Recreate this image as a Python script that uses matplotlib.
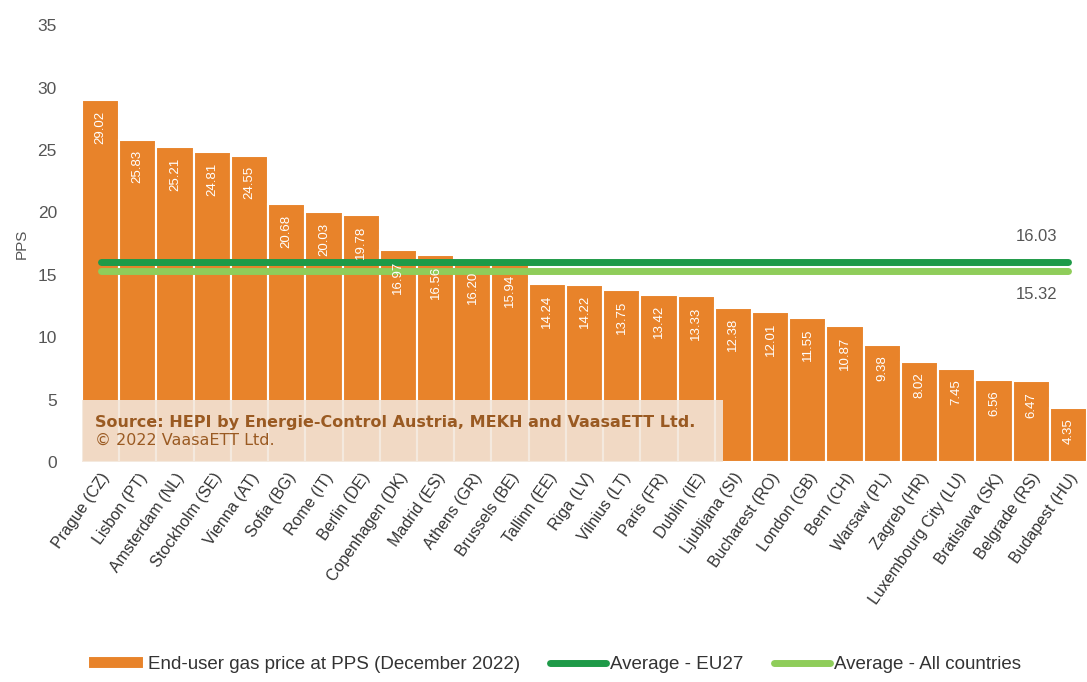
import matplotlib.pyplot as plt
from matplotlib.patches import Rectangle

plt.rcParams["font.family"] = ["Liberation Sans", "DejaVu Sans"]

cities = ["Prague (CZ)", "Lisbon (PT)", "Amsterdam (NL)", "Stockholm (SE)", "Vienna (AT)",
          "Sofia (BG)", "Rome (IT)", "Berlin (DE)", "Copenhagen (DK)", "Madrid (ES)",
          "Athens (GR)", "Brussels (BE)", "Tallinn (EE)", "Riga (LV)", "Vilnius (LT)",
          "Paris (FR)", "Dublin (IE)", "Ljubljana (SI)", "Bucharest (RO)", "London (GB)",
          "Bern (CH)", "Warsaw (PL)", "Zagreb (HR)", "Luxembourg City (LU)", "Bratislava (SK)",
          "Belgrade (RS)", "Budapest (HU)"]
prices = [29.02, 25.83, 25.21, 24.81, 24.55, 20.68, 20.03, 19.78, 16.97, 16.56,
          16.20, 15.94, 14.24, 14.22, 13.75, 13.42, 13.33, 12.38, 12.01, 11.55,
          10.87, 9.38, 8.02, 7.45, 6.56, 6.47, 4.35]
avg_eu27 = 16.03
avg_all = 15.32

orange = "#e8832a"
dark_green = "#1e9a48"
light_green = "#8fcd5a"
grey = "#555555"

fig = plt.figure(figsize=(10.87, 6.82), dpi=100)
ax = fig.add_axes([0.0754, 0.3226, 0.9246, 0.6404])

x = list(range(len(cities)))
bars = ax.bar(x, prices, width=1.0, color=orange, edgecolor="white", linewidth=1.5,
              zorder=2, label="End-user gas price at PPS (December 2022)")

for xi, v in zip(x, prices):
    ax.text(xi, v - 0.85, f"{v:.2f}", rotation=90, ha="center", va="top",
            color="white", fontsize=9.5, zorder=5)

l1, = ax.plot([x[0], x[-1]], [avg_eu27, avg_eu27], color=dark_green, lw=5,
              solid_capstyle="round", zorder=4, label="Average - EU27")
l2, = ax.plot([x[0], x[-1]], [avg_all, avg_all], color=light_green, lw=5,
              solid_capstyle="round", zorder=3, label="Average - All countries")
ax.text(x[-1] - 0.3, avg_eu27 + 1.4, f"{avg_eu27:.2f}", ha="right", va="bottom",
        color=grey, fontsize=12)
ax.text(x[-1] - 0.3, avg_all - 1.3, f"{avg_all:.2f}", ha="right", va="top",
        color=grey, fontsize=12)

ax.set_xlim(-0.5, len(cities) - 0.5)
ax.set_ylim(0, 35)
ax.set_yticks(range(0, 36, 5))
ax.set_xticks(x)
ax.set_xticklabels(cities, rotation=55, ha="right", rotation_mode="anchor",
                   fontsize=11.5, color="#333333")
ax.tick_params(axis="both", length=0, colors=grey)
ax.tick_params(axis="y", pad=18, labelsize=12.5)
ax.tick_params(axis="x", colors="#333333", pad=6, labelsize=11.5)
ax.set_ylabel("PPS", color=grey, fontsize=11, labelpad=6)
for s in ax.spines.values():
    s.set_visible(False)

# source box
ax.add_patch(Rectangle((-0.5, 0), 17.22, 5.0, facecolor="#f3e6da", alpha=0.88,
                       edgecolor="none", zorder=6))
ax.text(-0.15, 3.2, "Source: HEPI by Energie-Control Austria, MEKH and VaasaETT Ltd.",
        color="#9a5a22", fontsize=11.5, fontweight="bold", va="center", zorder=7,
        family="DejaVu Sans")
ax.text(-0.15, 1.7, "\u00a9 2022 VaasaETT Ltd.", color="#9a5a22", fontsize=11.5,
        va="center", zorder=7, family="DejaVu Sans")

fig.legend(handles=[bars, l1, l2], loc="lower center", bbox_to_anchor=(0.51, -0.012),
           ncol=3, frameon=False, fontsize=13.5, handlelength=3.0, handletextpad=0.2,
           columnspacing=1.6, labelcolor="#333333")

fig.savefig("out.png", dpi=100)
